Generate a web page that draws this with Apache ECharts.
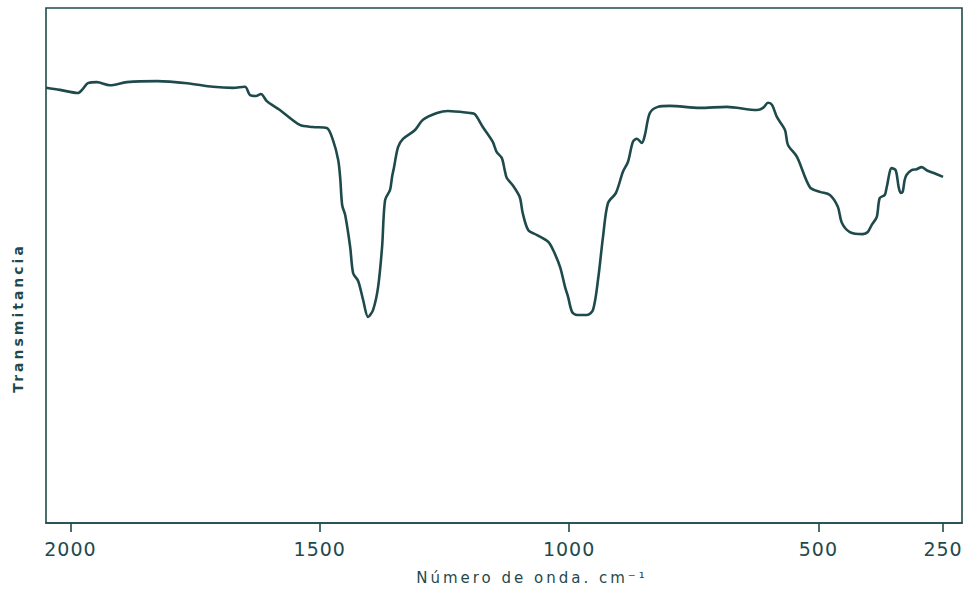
<!DOCTYPE html>
<html>
<head>
<meta charset="utf-8">
<script src="https://cdn.jsdelivr.net/npm/echarts@6/dist/echarts.min.js"></script>
<style>
html,body{margin:0;padding:0;background:#fff;}
#chart{width:970px;height:593px;}
</style>
</head>
<body>
<div id="chart"></div>
<script>
// Wavenumber (cm-1) and transmittance (arbitrary %, 0 = bottom of frame, 100 = top)
const wavenumbers = [2049,2021,1985,1975,1965,1947,1921,1887,1826,1766,1714,1674,1650,1640,1628,1618,1606,1580,1540,1514,1486,1473,1463,1459,1455,1449,1439,1433,1423,1413,1403,1393,1383,1375,1369,1359,1355,1351,1343,1333,1309,1293,1265,1243,1199,1189,1173,1153,1145,1135,1129,1125,1113,1099,1093,1082,1064,1042,1032,1018,1008,1002,994,984,964,952,942,932,922,906,892,882,872,864,854,848,838,822,798,738,684,623,611,601,593,583,567,561,543,517,497,477,461,453,437,411,401,393,383,377,367,363,353,345,339,335,331,327,323,313,303,293,283,270,250];
const transmittance = [84.5,84.1,83.5,84.3,85.4,85.6,85.0,85.6,85.8,85.4,84.7,84.5,84.7,83.1,82.9,83.3,81.9,80.2,77.3,76.9,76.7,74.2,70.5,67.0,61.7,59.8,53.6,48.5,47.0,43.3,40.0,41.4,45.8,53.6,62.7,64.7,67.2,69.1,73.0,74.6,76.3,78.3,79.6,80.0,79.6,79.4,76.9,74.0,72.0,70.9,68.5,67.0,65.6,63.3,60.2,56.9,55.9,54.6,53.0,49.7,45.8,43.9,41.0,40.4,40.4,41.4,47.2,55.5,62.1,64.1,68.2,70.1,74.0,74.6,73.8,75.3,79.6,80.8,81.0,80.6,80.8,80.2,80.6,81.6,81.2,78.8,76.3,73.4,71.1,65.2,64.3,63.7,61.4,58.3,56.5,56.1,56.5,57.9,59.4,63.1,63.7,65.2,68.9,68.5,65.2,64.1,64.3,66.6,67.6,68.5,68.7,69.1,68.5,68.0,67.2];
const tickValues = [2000,1500,1000,500,250];
const xAxisName = 'Número de onda. cm⁻¹';
const yAxisName = 'Transmitancia';

const ink = '#1f4a4c';
const seriesData = wavenumbers.map((w, i) => [w, transmittance[i]]);

const chart = echarts.init(document.getElementById('chart'), null, {renderer: 'svg'});
chart.setOption({
  animation: false,
  backgroundColor: '#fff',
  grid: {left: 46, right: 8, top: 8, bottom: 70, show: true, borderColor: ink, borderWidth: 1.6, backgroundColor: 'transparent'},
  xAxis: {
    type: 'value', min: 212, max: 2049, inverse: true,
    splitLine: {show: false},
    axisLine: {show: true, lineStyle: {color: ink, width: 1.6}},
    axisTick: {show: true, inside: false, length: 9, lineStyle: {color: ink, width: 1.6}, customValues: tickValues},
    axisLabel: {customValues: tickValues, formatter: v => String(v), color: ink, fontFamily: 'DejaVu Sans', fontSize: 19, margin: 16}
  },
  yAxis: {
    type: 'value', min: 0, max: 100,
    axisLine: {show: false}, axisTick: {show: false}, axisLabel: {show: false}, splitLine: {show: false}
  },
  graphic: [
    {type: 'text', x: 532, y: 578, style: {text: xAxisName, fill: ink, font: '15px "DejaVu Sans"', textAlign: 'center', textVerticalAlign: 'middle'}},
    {type: 'text', x: 18, y: 318, rotation: Math.PI / 2, style: {text: yAxisName, fill: ink, font: 'bold 14px "DejaVu Sans"', textAlign: 'center', textVerticalAlign: 'middle'}}
  ],
  series: [{
    type: 'line', data: seriesData, showSymbol: false, smooth: 0.3,
    lineStyle: {color: ink, width: 2.6}, z: 3
  }]
});

function spaceText() {
  document.querySelectorAll('#chart svg text').forEach(t => {
    const s = t.textContent || '';
    t.setAttribute('letter-spacing', /^\d+$/.test(s) ? '1px' : '3px');
  });
}
spaceText();
chart.on('finished', spaceText);
setTimeout(spaceText, 0);
setTimeout(spaceText, 100);
</script>
</body>
</html>
